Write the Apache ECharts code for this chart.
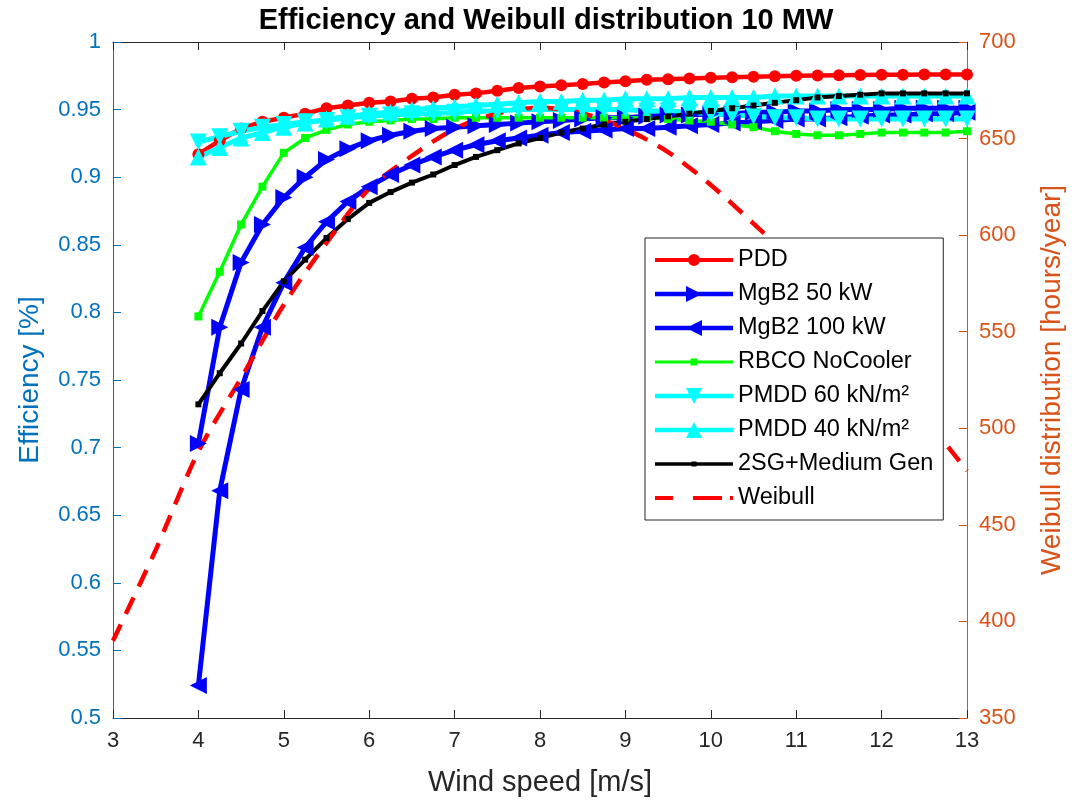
<!DOCTYPE html>
<html>
<head>
<meta charset="utf-8">
<script src="https://cdn.jsdelivr.net/npm/echarts@6/dist/echarts.min.js"></script>
<style>html,body{margin:0;padding:0;background:#fff}#c{width:1074px;height:806px}</style>
</head>
<body>
<div id="c"></div>
<script>
// Wind speeds [m/s] for the efficiency curves
const speeds = [4, 4.25, 4.5, 4.75, 5, 5.25, 5.5, 5.75, 6, 6.25, 6.5, 6.75, 7, 7.25, 7.5, 7.75, 8, 8.25, 8.5, 8.75, 9, 9.25, 9.5, 9.75, 10, 10.25, 10.5, 10.75, 11, 11.25, 11.5, 11.75, 12, 12.25, 12.5, 12.75, 13];

const pdd = [0.917, 0.927, 0.936, 0.941, 0.944, 0.947, 0.951, 0.953, 0.955, 0.956, 0.958, 0.959, 0.961, 0.962, 0.964, 0.966, 0.967, 0.968, 0.969, 0.970, 0.971, 0.972, 0.9725, 0.973, 0.9735, 0.974, 0.9743, 0.9746, 0.975, 0.9752, 0.9754, 0.9756, 0.9757, 0.9758, 0.9759, 0.976, 0.976];
const mgb2_50 = [0.703, 0.789, 0.837, 0.865, 0.885, 0.900, 0.913, 0.921, 0.927, 0.931, 0.934, 0.936, 0.937, 0.938, 0.939, 0.940, 0.941, 0.942, 0.943, 0.944, 0.944, 0.945, 0.946, 0.946, 0.947, 0.947, 0.948, 0.948, 0.949, 0.949, 0.950, 0.950, 0.950, 0.951, 0.951, 0.951, 0.951];
const mgb2_100 = [0.524, 0.668, 0.743, 0.789, 0.822, 0.848, 0.867, 0.882, 0.893, 0.902, 0.909, 0.915, 0.920, 0.924, 0.927, 0.929, 0.931, 0.933, 0.934, 0.935, 0.936, 0.936, 0.937, 0.938, 0.939, 0.940, 0.941, 0.942, 0.943, 0.943, 0.944, 0.945, 0.946, 0.946, 0.947, 0.947, 0.948];
const rbco = [0.797, 0.830, 0.865, 0.893, 0.918, 0.929, 0.935, 0.939, 0.941, 0.942, 0.943, 0.943, 0.944, 0.944, 0.944, 0.944, 0.944, 0.944, 0.944, 0.944, 0.944, 0.944, 0.943, 0.942, 0.941, 0.939, 0.937, 0.934, 0.932, 0.931, 0.931, 0.932, 0.933, 0.933, 0.933, 0.933, 0.934];
const pmdd60 = [0.926, 0.930, 0.934, 0.937, 0.939, 0.941, 0.942, 0.944, 0.945, 0.946, 0.947, 0.947, 0.948, 0.949, 0.949, 0.950, 0.950, 0.950, 0.950, 0.950, 0.950, 0.949, 0.949, 0.948, 0.947, 0.946, 0.945, 0.944, 0.944, 0.943, 0.943, 0.943, 0.943, 0.943, 0.943, 0.943, 0.943];
const pmdd40 = [0.915, 0.922, 0.929, 0.933, 0.937, 0.940, 0.943, 0.945, 0.947, 0.948, 0.950, 0.951, 0.952, 0.953, 0.954, 0.955, 0.956, 0.956, 0.957, 0.957, 0.958, 0.958, 0.958, 0.959, 0.959, 0.959, 0.959, 0.960, 0.960, 0.960, 0.960, 0.960, 0.960, 0.960, 0.960, 0.960, 0.960];
const sg2 = [0.732, 0.755, 0.777, 0.801, 0.823, 0.839, 0.855, 0.869, 0.881, 0.889, 0.896, 0.902, 0.909, 0.915, 0.920, 0.925, 0.929, 0.933, 0.936, 0.939, 0.941, 0.943, 0.945, 0.947, 0.949, 0.951, 0.953, 0.955, 0.957, 0.959, 0.960, 0.961, 0.962, 0.962, 0.962, 0.962, 0.962];

// Weibull distribution [hours/year]
const weibullSpeeds = [3, 3.5, 4, 4.5, 5, 5.5, 6, 6.5, 7, 7.5, 8, 8.5, 9, 9.5, 10, 10.5, 11, 11.5, 12, 12.5, 13];
const weibull = [390, 437, 488, 526, 564, 596, 624, 641, 655, 663, 666, 663, 655, 643, 626, 606, 585, 560, 533, 506, 478];

const names = ['PDD', 'MgB2 50 kW', 'MgB2 100 kW', 'RBCO NoCooler', 'PMDD 60 kN/m²', 'PMDD 40 kN/m²', '2SG+Medium Gen', 'Weibull'];

const pair = (xs, ys) => xs.map((x, i) => [x, ys[i]]);
const BLUE_AX = '#0072BD', ORANGE_AX = '#D95319', DARK = '#262626';
const FONT = 'Liberation Sans, Arial, sans-serif';

// legend icon shapes (78 x 20 box)
const BOX = 'M0,0 L0.01,0 L0,0.01 Z M78,20 L77.99,20 L78,19.99 Z ';
const lineRect = w => `M0,${10 - w / 2} H78 V${10 + w / 2} H0 Z `;
const icons = [
  BOX + lineRect(4) + 'M33,10 A6,6 0 1,1 45,10 A6,6 0 1,1 33,10 Z',
  BOX + lineRect(4.5) + 'M31,2 L47,10 L31,18 Z',
  BOX + lineRect(4.5) + 'M47,2 L47,18 L31,10 Z',
  BOX + lineRect(3) + 'M35.5,6.5 H42.5 V13.5 H35.5 Z',
  BOX + lineRect(4.5) + 'M31,2 L47,2 L39,18 Z',
  BOX + lineRect(4.5) + 'M39,2 L47,18 L31,18 Z',
  BOX + lineRect(3.5) + 'M36.5,7.5 H41.5 V12.5 H36.5 Z',
  BOX + 'M0,8 H18 V12 H0 Z M38,8 H67 V12 H38 Z M75,8 H78 V12 H75 Z'
];

function effSeries(name, data, color, lw, symbol, size, rot) {
  return {
    name, type: 'line', xAxisIndex: 0, yAxisIndex: 0,
    data: pair(speeds, data),
    lineStyle: { color, width: lw },
    itemStyle: { color, borderWidth: 0 },
    symbol, symbolSize: size, symbolRotate: rot || 0,
    showSymbol: true, showAllSymbol: true, animation: false
  };
}

const chart = echarts.init(document.getElementById('c'), null, { renderer: 'canvas' });
chart.setOption({
  animation: false,
  backgroundColor: '#fff',
  title: {
    text: 'Efficiency and Weibull distribution 10 MW',
    left: 541, textAlign: 'center', top: 1,
    textStyle: { fontFamily: FONT, fontSize: 29, fontWeight: 'bold', color: '#000' }
  },
  grid: { left: 113, right: 106, top: 42, bottom: 88, containLabel: false },
  legend: {
    orient: 'vertical', left: 645, top: 238,
    backgroundColor: '#fff', borderColor: DARK, borderWidth: 1,
    padding: [10, 10, 10, 10],
    itemWidth: 78, itemHeight: 20, itemGap: 10,
    symbolRotate: 0, symbolKeepAspect: true,
    textStyle: { fontFamily: FONT, fontSize: 23.5, color: '#000' },
    data: names.map((n, i) => ({ name: n, icon: 'path://' + icons[i] }))
  },
  xAxis: [{
    type: 'value', min: 3, max: 13, interval: 1, position: 'bottom',
    name: 'Wind speed [m/s]', nameLocation: 'middle', nameGap: 50,
    nameTextStyle: { fontFamily: FONT, fontSize: 29, color: DARK },
    axisLine: { show: true, lineStyle: { color: DARK, width: 1 } },
    axisTick: { show: true, inside: true, length: 8, lineStyle: { color: DARK } },
    axisLabel: { fontFamily: FONT, fontSize: 22, color: DARK, margin: 12 },
    splitLine: { show: false }
  }, {
    type: 'value', min: 3, max: 13, interval: 1, position: 'top',
    axisLine: { show: true, lineStyle: { color: DARK, width: 1 } },
    axisTick: { show: true, inside: true, length: 8, lineStyle: { color: DARK } },
    axisLabel: { show: false }, splitLine: { show: false }
  }],
  yAxis: [{
    type: 'value', min: 0.5, max: 1, interval: 0.05, position: 'left',
    name: 'Efficiency [%]', nameLocation: 'middle', nameGap: 69, nameRotate: 90,
    nameTextStyle: { fontFamily: FONT, fontSize: 28, color: BLUE_AX },
    axisLine: { show: true, lineStyle: { color: BLUE_AX, width: 1 } },
    axisTick: { show: true, inside: true, length: 8, lineStyle: { color: BLUE_AX } },
    axisLabel: { fontFamily: FONT, fontSize: 22, color: BLUE_AX, margin: 12,
      formatter: v => String(parseFloat(v.toFixed(2))) },
    splitLine: { show: false }
  }, {
    type: 'value', min: 350, max: 700, interval: 50, position: 'right',
    name: 'Weibull distribution [hours/year]', nameLocation: 'middle', nameGap: 71, nameRotate: 90,
    nameTextStyle: { fontFamily: FONT, fontSize: 28, color: ORANGE_AX },
    axisLine: { show: true, lineStyle: { color: ORANGE_AX, width: 1 } },
    axisTick: { show: true, inside: true, length: 8, lineStyle: { color: ORANGE_AX } },
    axisLabel: { fontFamily: FONT, fontSize: 22, color: ORANGE_AX, margin: 12 },
    splitLine: { show: false }
  }],
  series: [
    effSeries(names[0], pdd, '#ff0000', 4.5, 'circle', 12, 0),
    effSeries(names[1], mgb2_50, '#0000ff', 5, 'triangle', 17, -90),
    effSeries(names[2], mgb2_100, '#0000ff', 5, 'triangle', 17, 90),
    effSeries(names[3], rbco, '#00ff00', 3.5, 'rect', 8, 0),
    effSeries(names[4], pmdd60, '#00ffff', 5, 'triangle', 17, 180),
    effSeries(names[5], pmdd40, '#00ffff', 5, 'triangle', 17, 0),
    effSeries(names[6], sg2, '#000000', 4, 'rect', 6, 0),
    {
      name: names[7], type: 'line', xAxisIndex: 0, yAxisIndex: 1,
      data: pair(weibullSpeeds, weibull), smooth: 0.3,
      lineStyle: { color: '#ff0000', width: 4.5, type: [18, 12] },
      itemStyle: { color: '#ff0000' },
      symbol: 'none', showSymbol: false, animation: false
    }
  ]
});
</script>
</body>
</html>
